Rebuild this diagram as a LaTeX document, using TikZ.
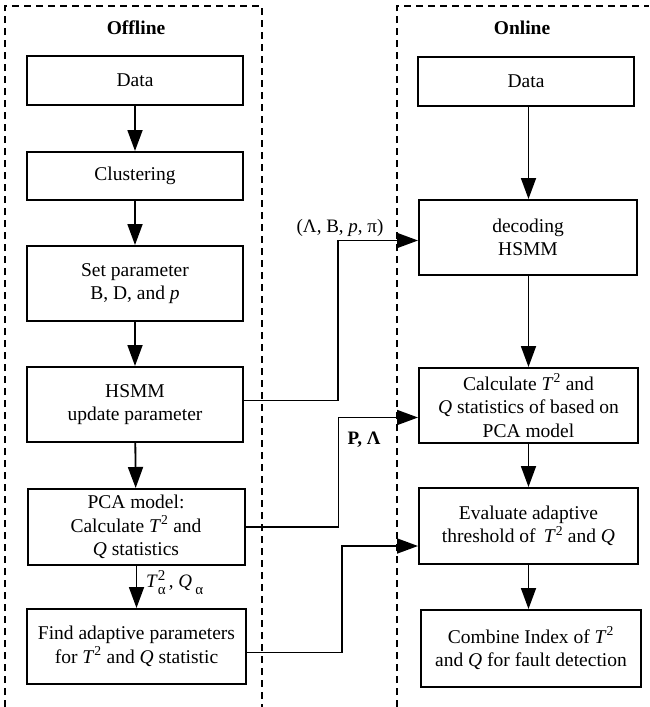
\documentclass[tikz,border=0pt]{standalone}
\usepackage{fontspec}
\setmainfont{Liberation Serif}
\usetikzlibrary{arrows.meta,calc}
\newcommand{\scr}[1]{{\fontsize{15}{15}\selectfont #1}}
\begin{document}
\begin{tikzpicture}[x=1pt,y=-1pt,
  box/.style={draw,line width=2pt,minimum width=#1,align=center,inner sep=0pt,font=\fontsize{19.5}{23.5}\selectfont},
  box/.default=216pt,
  conn/.style={line width=1.8pt,-{Triangle[width=15pt,length=21pt]}},
  frame/.style={line width=1.9pt,dash pattern=on 7pt off 5pt},
  lbl/.style={font=\fontsize{19}{21}\selectfont,inner sep=0pt},
  ttl/.style={font=\fontsize{19.5}{21}\selectfont\bfseries,inner sep=0pt}]
\useasboundingbox (0,0) rectangle (649,707);
% frames
\draw[frame] (5,707) -- (5,6) -- (262,6) -- (262,707);
\draw[frame] (397,707) -- (397,6) -- (649,6);
\node[ttl] (toff) at (136,28) {Offline};
\node[ttl] (ton) at (522,28) {Online};
% offline
\node[box,minimum height=49pt] (d1) at (135,80.5) {Data};
\node[box,minimum height=48pt] (cl) at (135,176) {Clustering};
\node[box,minimum height=75pt] (sp) at (135,283.5) {Set parameter\\B, D, and \textit{p}};
\node[box,minimum height=75pt] (hs) at (135,404.5) {HSMM\\update parameter};
\node[box=217pt,minimum height=76pt] (pc) at (136,527) {PCA model:\\Calculate \textit{T}\textsuperscript{2} and\\\textit{Q} statistics};
\node[box=219pt,minimum height=75pt] (fd) at (136.5,646.5) {Find adaptive parameters\\for \textit{T}\textsuperscript{2} and \textit{Q} statistic};
% online
\node[box,minimum height=49pt] (d2) at (526,81.5) {Data};
\node[box=218pt,minimum height=75pt] (dc) at (528,237.5) {decoding\\HSMM};
\node[box=219pt,minimum height=75pt] (ca) at (528.5,405.5) {Calculate \textit{T}\textsuperscript{2} and\\\textit{Q} statistics of based on\\PCA model};
\node[box=219pt,minimum height=76pt] (ev) at (528.5,526) {Evaluate adaptive\\threshold of \,\textit{T}\textsuperscript{2} and \textit{Q}};
\node[box=220pt,minimum height=77pt] (cb) at (531,648.5) {Combine Index of \textit{T}\textsuperscript{2}\\and \textit{Q} for fault detection};
% vertical arrows
\draw[conn] (d1) -- (cl);
\draw[conn] (cl) -- (sp);
\draw[conn] (sp) -- (hs);
\draw[conn] (hs) -- (pc);
\draw[conn] (pc.south -| fd.north) -- (fd.north);
\draw[conn] (d2.south -| ca.north) -- (dc.north -| ca.north);
\draw[conn] (dc.south -| ca.north) -- (ca.north);
\draw[conn] (ca) -- (ev);
\draw[conn] (ev.south) -- (ev.south |- cb.north);
% cross connectors
\draw[conn] ([yshift=4pt]hs.east) -- ++(94,0) |- ([yshift=-3pt]dc.west);
\draw[conn] (pc.east) -- ++(93,0) |- ([yshift=-12pt]ca.west);
\draw[conn] ([yshift=-6pt]fd.east) -- ++(95,0) |- ([yshift=-20pt]ev.west);
% labels
\node[lbl] (l1) at (340,228) {(Λ, B, \textit{p}, π)};
\node[lbl,font=\fontsize{19}{21}\selectfont\bfseries] (l2) at (364,440) {P, Λ};
\node[lbl,anchor=west] (l3) at (146,583) {\textit{T}\rlap{\raisebox{7pt}{\scr{2}}}\raisebox{-7pt}{\scr{α}}\,, \textit{Q}\,\raisebox{-7pt}{\scr{α}}};
\end{tikzpicture}
\end{document}
